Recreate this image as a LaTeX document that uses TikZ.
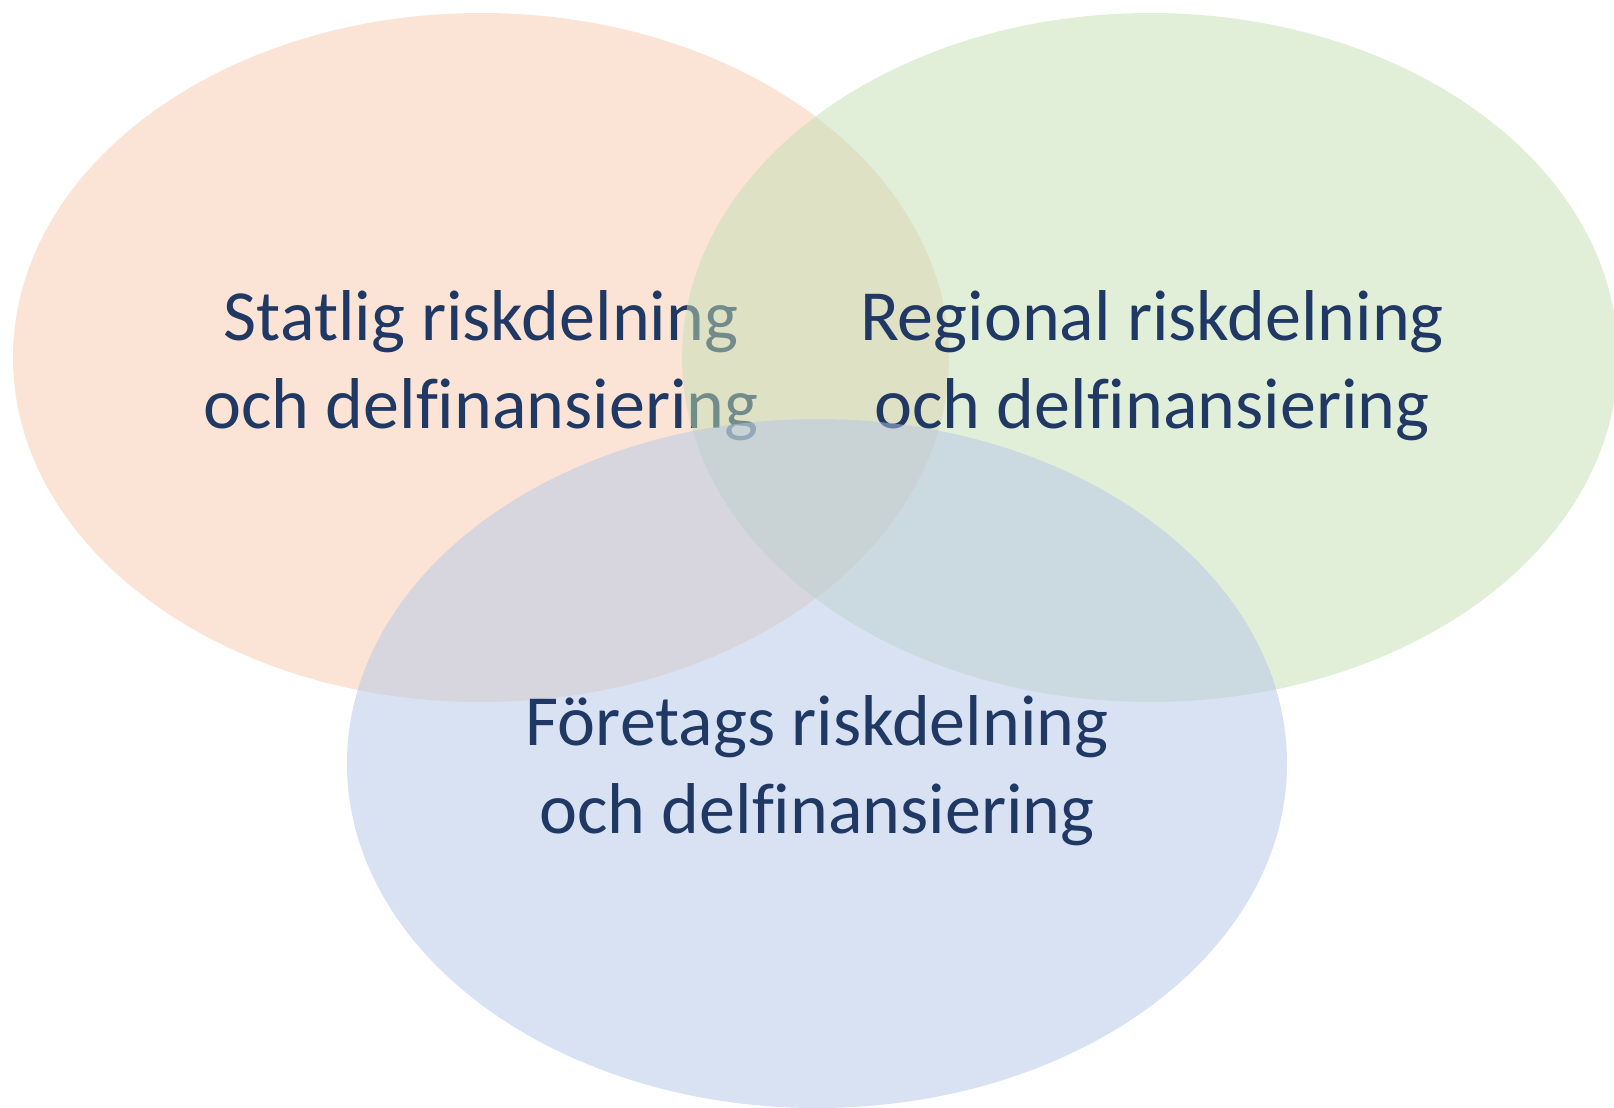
\documentclass[tikz,border=0pt]{standalone}
\usepackage{fontspec}
\setmainfont{Carlito}[Ligatures=NoCommon]
\definecolor{cOrange}{HTML}{F8CBAD}
\definecolor{cGreen}{HTML}{C5E0B4}
\definecolor{cBlue}{HTML}{B4C7E7}
\definecolor{cText}{HTML}{203864}
\newcommand{\delfin}{delf\kern0pt inansiering}
\begin{document}
\begin{tikzpicture}[x=1pt,y=-1pt,
  venn/.style={fill opacity=0.5, draw=none},
  lbl/.style={text=cText, align=center, inner sep=0pt,
    font=\fontsize{72}{88}\selectfont}]
\useasboundingbox (0,0) rectangle (1614,1108);
\fill[white] (0,0) rectangle (1614,1108);
\fill[venn, cOrange] (481,357.5) ellipse [x radius=468, y radius=344.5];
\node[lbl] (statlig) at (481,366) {Statlig riskdelning\\och \delfin};
\fill[venn, cGreen] (1150,357.5) ellipse [x radius=468, y radius=344.5];
\node[lbl] (regional) at (1152,366) {Regional riskdelning\\och \delfin};
\fill[venn, cBlue] (817,763.5) ellipse [x radius=470, y radius=344.5];
\node[lbl] (foretag) at (817,771) {Företags riskdelning\\och \delfin};
\end{tikzpicture}
\end{document}
